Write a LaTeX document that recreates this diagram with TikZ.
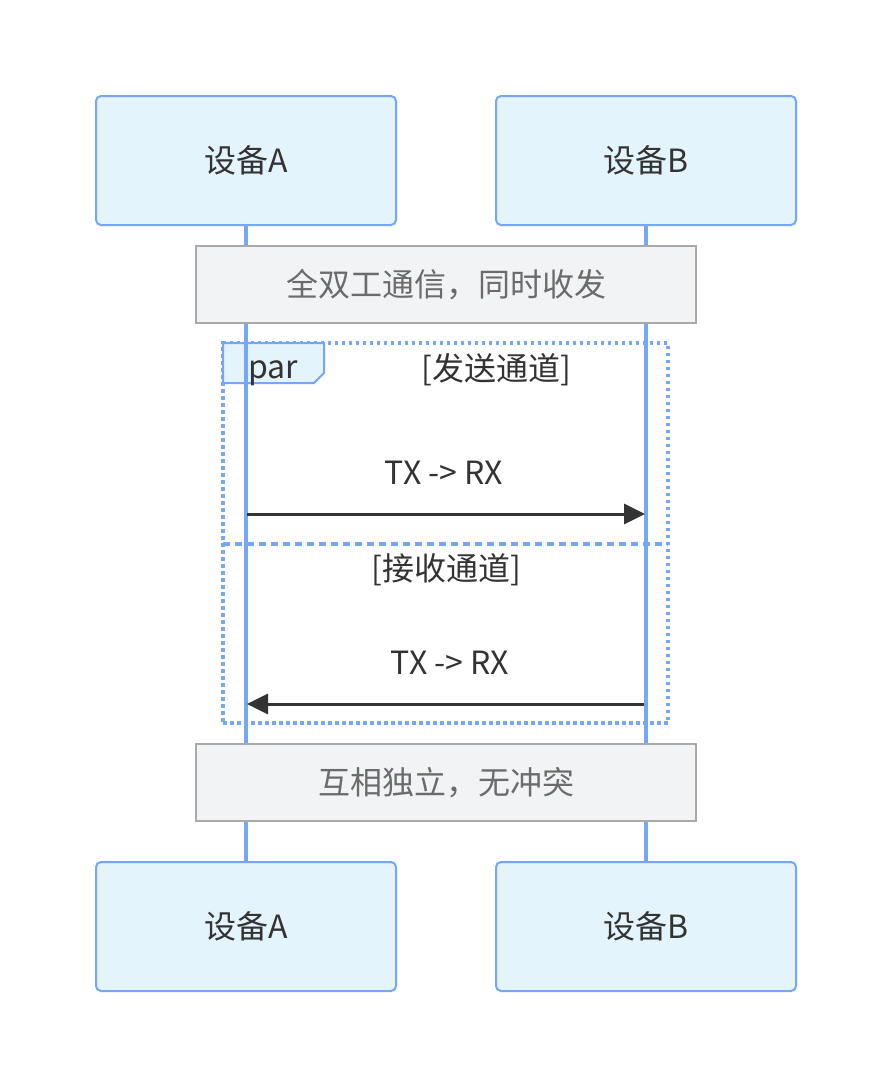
\documentclass[tikz,border=0pt]{standalone}
\usepackage{fontspec}
\setmainfont{Noto Sans CJK SC}
\usetikzlibrary{arrows.meta}
\definecolor{actorfill}{HTML}{E4F4FD}
\definecolor{actorline}{HTML}{76A6F8}
\definecolor{notefill}{HTML}{F2F3F5}
\definecolor{noteline}{HTML}{A9A9A9}
\definecolor{notetext}{HTML}{6B6B6B}
\definecolor{textdark}{HTML}{333333}
\begin{document}
\begin{tikzpicture}[x=1pt,y=-1pt,
  every node/.style={font=\fontsize{32}{38}\selectfont, text=textdark, inner sep=0pt},
  actor/.style={draw=actorline, fill=actorfill, line width=2pt, rounded corners=5pt,
    minimum width=300pt, minimum height=129pt},
  lifeline/.style={draw=actorline, line width=3.5pt},
  notebox/.style={draw=noteline, fill=notefill, line width=2pt,
    minimum width=500pt, minimum height=77pt, text=notetext},
  parbox/.style={draw=actorline, line width=3.2pt, dash pattern=on 3.5pt off 3.5pt,
    minimum width=445pt, minimum height=380pt, outer sep=0pt},
  sepline/.style={draw=actorline, line width=3.2pt, dash pattern=on 7pt off 5pt},
  msg/.style={draw=textdark, line width=3pt, -{Triangle[length=21pt,width=20pt]}}
]
\useasboundingbox[fill=white] (0,0) rectangle (892,1088);

% par frame
\node[parbox] (par) at (445.5,533) {};
\draw[draw=actorline, fill=actorfill, line width=2pt]
  (par.north west) -- ++(101,0) -- ++(0,30) -- ++(-10,10) -- ++(-91,0) -- cycle;
\node[anchor=base] (parlbl) at (273,378) {par};
\node (cond1) at (496,370) {[发送通道]};
\coordinate (sepL) at (223,544);
\coordinate (sepR) at (668,544);
\draw[sepline] (sepL) -- (sepR);
\node (cond2) at (446,570) {[接收通道]};

% actors
\node[actor] (a1) at (246,160.5) {设备A};
\node[actor] (b1) at (646,160.5) {设备B};
\node[actor] (a2) at (246,926.5) {设备A};
\node[actor] (b2) at (646,926.5) {设备B};

% lifelines
\draw[lifeline] (a1.south) -- (a2.north);
\draw[lifeline] (b1.south) -- (b2.north);

% notes
\node[notebox] (n1) at (446,284.5) {全双工通信，同时收发};
\node[notebox] (n2) at (446,782.5) {互相独立，无冲突};

% messages
\coordinate (m1s) at (247,514);
\coordinate (m1e) at (645,514);
\draw[msg] (m1s) -- (m1e);
\node (t1) at (444,473) {TX -> RX};

\coordinate (m2s) at (644,704);
\coordinate (m2e) at (247,704);
\draw[msg] (m2s) -- (m2e);
\node (t2) at (450,663) {TX -> RX};
\end{tikzpicture}
\end{document}
